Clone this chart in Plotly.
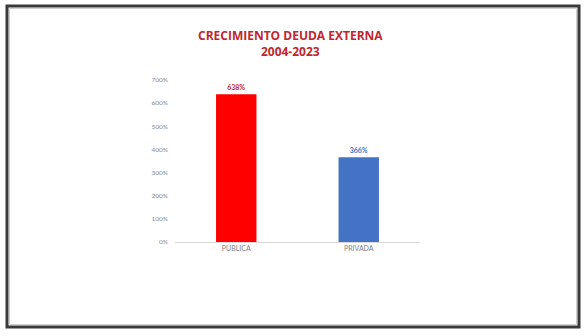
import plotly.graph_objects as go

categories = ["PUBLICA", "PRIVADA"]
values = [638, 366]
bar_colors = ["#FF0000", "#4472C4"]
label_colors = ["#C0272D", "#4472C4"]
tick_vals = [0, 100, 200, 300, 400, 500, 600, 700]
tick_text = [f"{v}%" for v in tick_vals]
title_text = "CRECIMIENTO DEUDA EXTERNA<br>2004-2023"

W, H = 585, 336
L, R, T, B = 175, 165, 80, 94
pw, ph = W - L - R, H - T - B

def px(x):
    return (x - L) / pw

def py(y):
    return (H - B - y) / ph

fig = go.Figure()
fig.add_trace(go.Bar(
    x=categories, y=values,
    marker=dict(color=bar_colors, line=dict(width=0)),
    width=0.33,
    text=[f"<b>{v}%</b>" for v in values],
    textposition="outside",
    textfont=dict(size=7, color=label_colors, family="Lato"),
    cliponaxis=False,
))

fig.update_layout(
    width=W, height=H,
    margin=dict(l=L, r=R, t=T, b=B),
    paper_bgcolor="white", plot_bgcolor="white",
    showlegend=False,
    font=dict(family="Lato", color="#7f7f7f"),
    xaxis=dict(showline=True, linecolor="#d9d9d9", linewidth=1,
               tickfont=dict(size=7, color="#7f7f7f"), ticks="",
               showgrid=False, fixedrange=True),
    yaxis=dict(range=[0, 700], tickvals=tick_vals, ticktext=tick_text,
               showgrid=False, zeroline=False, showline=False,
               tickfont=dict(size=6.5, color="#8c8c8c"), ticklabelstandoff=6,
               fixedrange=True),
)

fig.add_annotation(
    text="<b>" + title_text + "</b>", xref="paper", yref="paper",
    x=px(290), y=py(43), xanchor="center", yanchor="middle",
    showarrow=False, align="center",
    font=dict(size=12, color="#C0272D", family="Open Sans"),
)

# outer frame
fig.add_shape(type="rect", xref="paper", yref="paper",
              x0=px(7), x1=px(579), y0=py(6), y1=py(327),
              line=dict(color="#3a3a3a", width=3), layer="above")
fig.add_shape(type="rect", xref="paper", yref="paper",
              x0=px(9.5), x1=px(576.5), y0=py(8.5), y1=py(324.5),
              line=dict(color="#cfcfcf", width=1), layer="above")

fig.write_html("out.html")
